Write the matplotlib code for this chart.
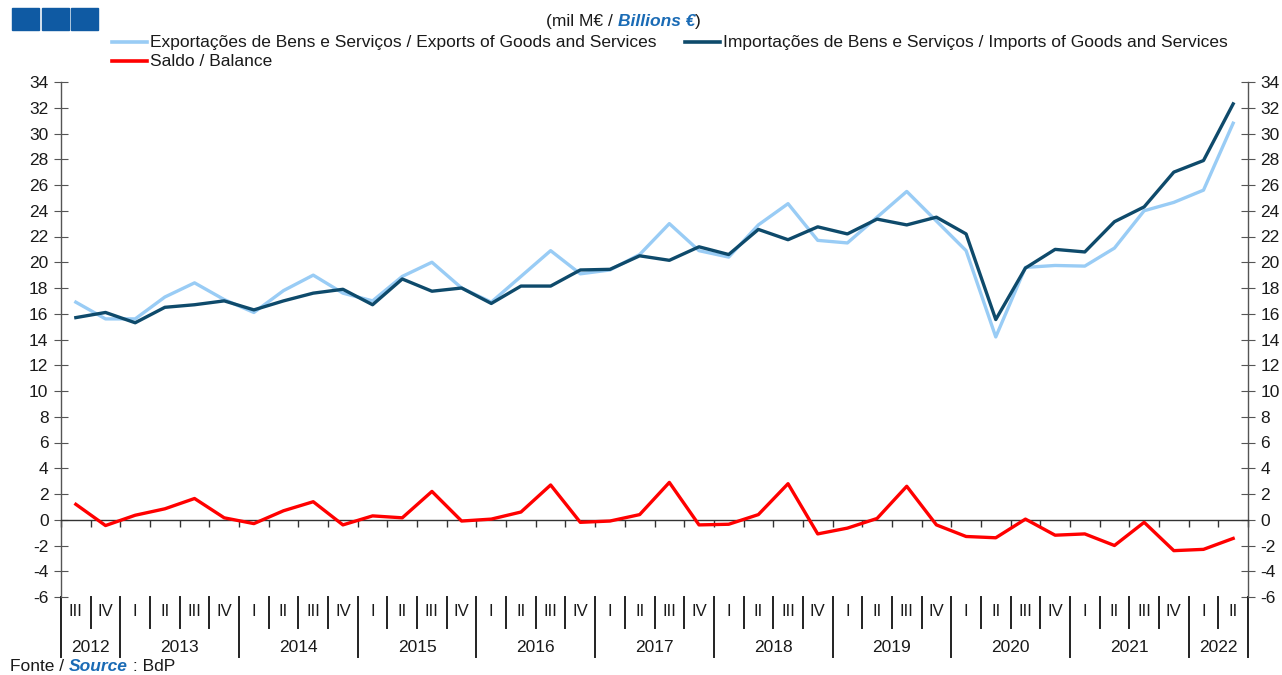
import matplotlib
matplotlib.use("Agg")
from matplotlib import pyplot as plt
from matplotlib.patches import Rectangle
from matplotlib.lines import Line2D

plt.rcParams['font.family'] = ['Liberation Sans', 'DejaVu Sans']
plt.rcParams['axes.unicode_minus'] = False

# 2012 Q3 .. 2022 Q2, mil M€
years = ["2012", "2013", "2014", "2015", "2016", "2017", "2018", "2019", "2020", "2021", "2022"]
quarters_per_year = [2, 4, 4, 4, 4, 4, 4, 4, 4, 4, 2]
quarter_labels = (["III", "IV"] + ["I", "II", "III", "IV"] * 9 + ["I", "II"])

exports = [16.9, 15.6, 15.6, 17.3, 18.4, 17.1, 16.1, 17.8, 19.0, 17.6,
           17.0, 18.9, 20.0, 18.0, 16.9, 18.9, 20.9, 19.1, 19.4, 20.6,
           23.0, 20.9, 20.4, 22.9, 24.55, 21.7, 21.5, 23.5, 25.5, 23.2,
           20.9, 14.2, 19.6, 19.75, 19.7, 21.1, 24.0, 24.65, 25.6, 30.8]
imports = [15.7, 16.1, 15.3, 16.5, 16.7, 17.0, 16.3, 17.0, 17.6, 17.9,
           16.7, 18.7, 17.75, 18.0, 16.8, 18.15, 18.15, 19.4, 19.45, 20.5,
           20.15, 21.2, 20.6, 22.55, 21.75, 22.75, 22.2, 23.35, 22.9, 23.5,
           22.2, 15.55, 19.55, 21.0, 20.8, 23.15, 24.3, 27.0, 27.9, 32.3]
balance = [1.2, -0.45, 0.35, 0.85, 1.65, 0.15, -0.3, 0.7, 1.4, -0.4,
           0.3, 0.15, 2.2, -0.1, 0.05, 0.6, 2.7, -0.2, -0.1, 0.4,
           2.9, -0.4, -0.35, 0.4, 2.8, -1.1, -0.65, 0.1, 2.6, -0.4,
           -1.3, -1.4, 0.05, -1.2, -1.1, -2.0, -0.2, -2.4, -2.3, -1.45]

c_exp = "#99ccf5"
c_imp = "#0e4a6b"
c_bal = "#ff0000"
c_blue = "#1a6bb5"
c_txt = "#1a1a1a"
fs = 12.5

fig = plt.figure(figsize=(12.82, 6.75), dpi=100)
ax = fig.add_axes([61 / 1282, 1 - 597 / 675, (1248 - 61) / 1282, (597 - 82) / 675])

x = list(range(len(exports)))
ax.plot(x, exports, color=c_exp, lw=2.4, zorder=3)
ax.plot(x, imports, color=c_imp, lw=2.4, zorder=4)
ax.plot(x, balance, color=c_bal, lw=2.4, zorder=3)

ax.set_xlim(-0.5, len(x) - 0.5)
ax.set_ylim(-6, 34)
yt = list(range(-6, 35, 2))
ax.set_yticks(yt)
ax.tick_params(axis='y', direction='inout', length=10, width=0.8, labelsize=fs,
               colors='#555555', labelcolor=c_txt, right=True, labelright=True, pad=4)
ax.spines['top'].set_visible(False)
for s in ['left', 'right', 'bottom']:
    ax.spines[s].set_color('#555555')
    ax.spines[s].set_linewidth(1.0)
ax.spines['bottom'].set_position(('data', 0))
ax.spines['bottom'].set_color('#333333')
ax.set_xticks([k - 0.5 for k in range(len(x) + 1)])
ax.set_xticklabels([])
ax.tick_params(axis='x', direction='out', length=5, width=1.0, colors='#333333')

# category labels below the plot
tr = ax.get_xaxis_transform()
q_bottom = -0.060
y_bottom = -0.1165
for i, q in enumerate(quarter_labels):
    ax.text(i, -0.029, q, transform=tr, ha='center', va='center', fontsize=fs - 0.5, color=c_txt)
start = 0
for yr, n in zip(years, quarters_per_year):
    ax.text(start + (n - 1) / 2, -0.099, yr, transform=tr, ha='center', va='center', fontsize=fs, color=c_txt)
    for k in range(1, n):
        ax.add_line(Line2D([start + k - 0.5] * 2, [0, q_bottom], transform=tr, color='#222222',
                           lw=1.4, clip_on=False))
    ax.add_line(Line2D([start - 0.5] * 2, [0, y_bottom], transform=tr, color='#222222',
                       lw=1.4, clip_on=False))
    start += n
ax.add_line(Line2D([start - 0.5] * 2, [0, y_bottom], transform=tr, color='#222222',
                   lw=1.4, clip_on=False))

# header squares
for k in range(3):
    fig.add_artist(Rectangle(((12 + 29.5 * k) / 1282, 1 - 30 / 675), 27 / 1282, 22 / 675,
                             transform=fig.transFigure, color="#0f5aa3"))

# units title
t1 = fig.text(546 / 1282, 1 - 26 / 675, "(mil M€ / ", fontsize=fs, color=c_txt, va='baseline')
a1 = ax.annotate("Billions €", xy=(1, 0), xycoords=t1, fontsize=fs, color=c_blue,
                 fontweight='bold', fontstyle='italic', va='bottom', annotation_clip=False)
ax.annotate(")", xy=(1, 0), xycoords=a1, fontsize=fs, color=c_txt, va='bottom', annotation_clip=False)


# legend
def legend_entry(x0, y0, color, label):
    fig.add_artist(Line2D([x0 / 1282, (x0 + 35) / 1282], [1 - y0 / 675] * 2, color=color, lw=2.6,
                          transform=fig.transFigure))
    fig.text((x0 + 38) / 1282, 1 - y0 / 675, label, fontsize=fs, color=c_txt, va='center')


legend_entry(112, 42, c_exp, "Exportações de Bens e Serviços / Exports of Goods and Services")
legend_entry(685, 42, c_imp, "Importações de Bens e Serviços / Imports of Goods and Services")
legend_entry(112, 61, c_bal, "Saldo / Balance")

# source
s1 = fig.text(10 / 1282, 1 - 671 / 675, "Fonte / ", fontsize=fs, color=c_txt, va='baseline')
s2 = ax.annotate("Source", xy=(1, 0), xycoords=s1, fontsize=fs, color=c_blue,
                 fontweight='bold', fontstyle='italic', va='bottom', annotation_clip=False)
ax.annotate(" : BdP", xy=(1, 0), xycoords=s2, fontsize=fs, color=c_txt, va='bottom', annotation_clip=False)

fig.savefig("out.png", dpi=100)
